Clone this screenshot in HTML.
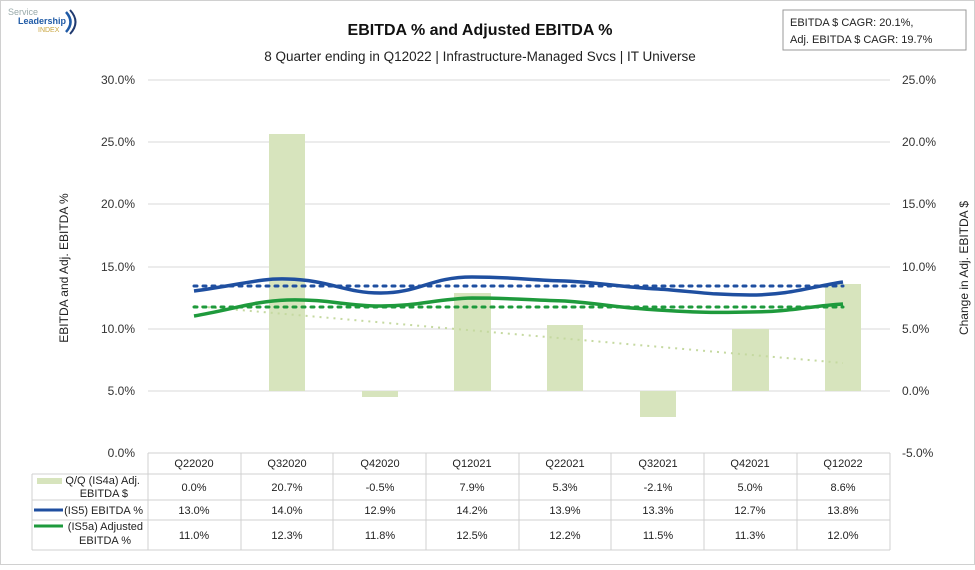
<!DOCTYPE html>
<html><head><meta charset="utf-8"><style>
body{margin:0;background:#fff;}
svg text{font-family:"Liberation Sans",sans-serif;}
</style></head><body>
<svg width="975" height="565" viewBox="0 0 975 565" xmlns="http://www.w3.org/2000/svg">
<rect x="0.5" y="0.5" width="974" height="564" fill="#fff" stroke="#d0d0d0"/>
<!-- logo -->
<text x="8" y="15" font-size="9" fill="#9aa">Service</text>
<text x="18" y="24" font-size="9" fill="#1f5aa6" font-weight="bold">Leadership</text>
<text x="38" y="32" font-size="7" fill="#c9a640">INDEX</text>
<path d="M66 12 q9 10 0 20" stroke="#1f5aa6" stroke-width="2.5" fill="none"/>
<path d="M70 10 q11 12 0 24" stroke="#203a70" stroke-width="2" fill="none"/>
<!-- titles -->
<text x="480" y="35" font-size="16" font-weight="bold" text-anchor="middle" fill="#111">EBITDA % and Adjusted EBITDA %</text>
<text x="480" y="61" font-size="13.5" text-anchor="middle" fill="#222">8 Quarter ending in Q12022 | Infrastructure-Managed Svcs | IT Universe</text>
<rect x="783" y="10" width="183" height="40" fill="#fff" stroke="#999"/>
<text x="790" y="26" font-size="11" fill="#222">EBITDA $ CAGR: 20.1%,</text>
<text x="790" y="43" font-size="11" fill="#222">Adj. EBITDA $ CAGR: 19.7%</text>
<!-- grid -->
<g stroke="#d9d9d9" stroke-width="1">
<line x1="148" x2="890" y1="80" y2="80"/><line x1="148" x2="890" y1="142" y2="142"/>
<line x1="148" x2="890" y1="204" y2="204"/><line x1="148" x2="890" y1="267" y2="267"/>
<line x1="148" x2="890" y1="329" y2="329"/><line x1="148" x2="890" y1="391" y2="391"/>
</g>
<g font-size="12" fill="#333" text-anchor="end">
<text x="135" y="84">30.0%</text><text x="135" y="146">25.0%</text><text x="135" y="208">20.0%</text>
<text x="135" y="271">15.0%</text><text x="135" y="333">10.0%</text><text x="135" y="395">5.0%</text><text x="135" y="457">0.0%</text>
</g>
<g font-size="12" fill="#333">
<text x="902" y="84">25.0%</text><text x="902" y="146">20.0%</text><text x="902" y="208">15.0%</text>
<text x="902" y="271">10.0%</text><text x="902" y="333">5.0%</text><text x="902" y="395">0.0%</text><text x="902" y="457">-5.0%</text>
</g>
<text transform="translate(68,268) rotate(-90)" font-size="12" text-anchor="middle" fill="#222">EBITDA and Adj. EBITDA %</text>
<text transform="translate(968,268) rotate(-90)" font-size="12" text-anchor="middle" fill="#222">Change in Adj. EBITDA $</text>
<!-- bars -->
<g fill="#d7e4bd">
<rect x="269" y="134" width="36" height="257"/>
<rect x="362" y="391" width="36" height="6"/>
<rect x="454" y="293" width="37" height="98"/>
<rect x="547" y="325" width="36" height="66"/>
<rect x="640" y="391" width="36" height="26"/>
<rect x="732" y="329" width="37" height="62"/>
<rect x="825" y="284" width="36" height="107"/>
</g>
<!-- trendlines -->
<line x1="194" y1="306" x2="843" y2="363" stroke="#c5d9a0" stroke-width="2" stroke-dasharray="2 5"/>
<line x1="194" y1="286" x2="843" y2="286" stroke="#1f4fa0" stroke-width="3" stroke-dasharray="3 6" stroke-linecap="round"/>
<line x1="194" y1="307" x2="843" y2="307" stroke="#1e9a3c" stroke-width="3" stroke-dasharray="3 6" stroke-linecap="round"/>
<!-- series -->
<path d="M194 291 C240 285,260 278,287 279 C330 280,345 293,380 293 C420 293,430 277,472 277 C510 277,530 280,565 281 C605 283,620 287,658 289 C690 291,710 295,750 295 C790 295,810 287,843 282" fill="none" stroke="#1f4fa0" stroke-width="3.5"/>
<path d="M194 316 C230 310,255 301,287 300 C330 299,345 306,380 306 C420 306,435 299,472 298 C510 298,530 300,565 301 C605 304,620 308,658 310 C690 312,710 313,750 312 C790 312,810 306,843 304" fill="none" stroke="#1e9a3c" stroke-width="3.5"/>
<!-- table -->
<g stroke="#d0d0d0" stroke-width="1" fill="none">
<line x1="148" x2="890" y1="453" y2="453"/>
<line x1="32" x2="890" y1="474" y2="474"/>
<line x1="32" x2="890" y1="500" y2="500"/>
<line x1="32" x2="890" y1="520" y2="520"/>
<line x1="32" x2="890" y1="550" y2="550"/>
<line x1="32" x2="32" y1="474" y2="550"/>
<line x1="148" x2="148" y1="453" y2="550"/><line x1="241" x2="241" y1="453" y2="550"/>
<line x1="333" x2="333" y1="453" y2="550"/><line x1="426" x2="426" y1="453" y2="550"/>
<line x1="519" x2="519" y1="453" y2="550"/><line x1="611" x2="611" y1="453" y2="550"/>
<line x1="704" x2="704" y1="453" y2="550"/><line x1="797" x2="797" y1="453" y2="550"/>
<line x1="890" x2="890" y1="453" y2="550"/>
</g>
<g font-size="11" fill="#222" text-anchor="middle">
<text x="194" y="467">Q22020</text><text x="287" y="467">Q32020</text><text x="380" y="467">Q42020</text><text x="472" y="467">Q12021</text>
<text x="565" y="467">Q22021</text><text x="658" y="467">Q32021</text><text x="750" y="467">Q42021</text><text x="843" y="467">Q12022</text>
<text x="194" y="491">0.0%</text><text x="287" y="491">20.7%</text><text x="380" y="491">-0.5%</text><text x="472" y="491">7.9%</text>
<text x="565" y="491">5.3%</text><text x="658" y="491">-2.1%</text><text x="750" y="491">5.0%</text><text x="843" y="491">8.6%</text>
<text x="194" y="514">13.0%</text><text x="287" y="514">14.0%</text><text x="380" y="514">12.9%</text><text x="472" y="514">14.2%</text>
<text x="565" y="514">13.9%</text><text x="658" y="514">13.3%</text><text x="750" y="514">12.7%</text><text x="843" y="514">13.8%</text>
<text x="194" y="539">11.0%</text><text x="287" y="539">12.3%</text><text x="380" y="539">11.8%</text><text x="472" y="539">12.5%</text>
<text x="565" y="539">12.2%</text><text x="658" y="539">11.5%</text><text x="750" y="539">11.3%</text><text x="843" y="539">12.0%</text>
</g>
<rect x="37" y="478" width="25" height="6" fill="#d7e4bd"/>
<line x1="34" x2="63" y1="510" y2="510" stroke="#1f4fa0" stroke-width="3"/>
<line x1="34" x2="63" y1="526" y2="526" stroke="#1e9a3c" stroke-width="3"/>
<g font-size="11" fill="#222" text-anchor="end">
<text x="140" y="484">Q/Q (IS4a) Adj.</text><text x="128" y="497">EBITDA $</text>
<text x="143" y="514">(IS5) EBITDA %</text>
<text x="143" y="530">(IS5a) Adjusted</text><text x="131" y="544">EBITDA %</text>
</g>
</svg>
</body></html>
